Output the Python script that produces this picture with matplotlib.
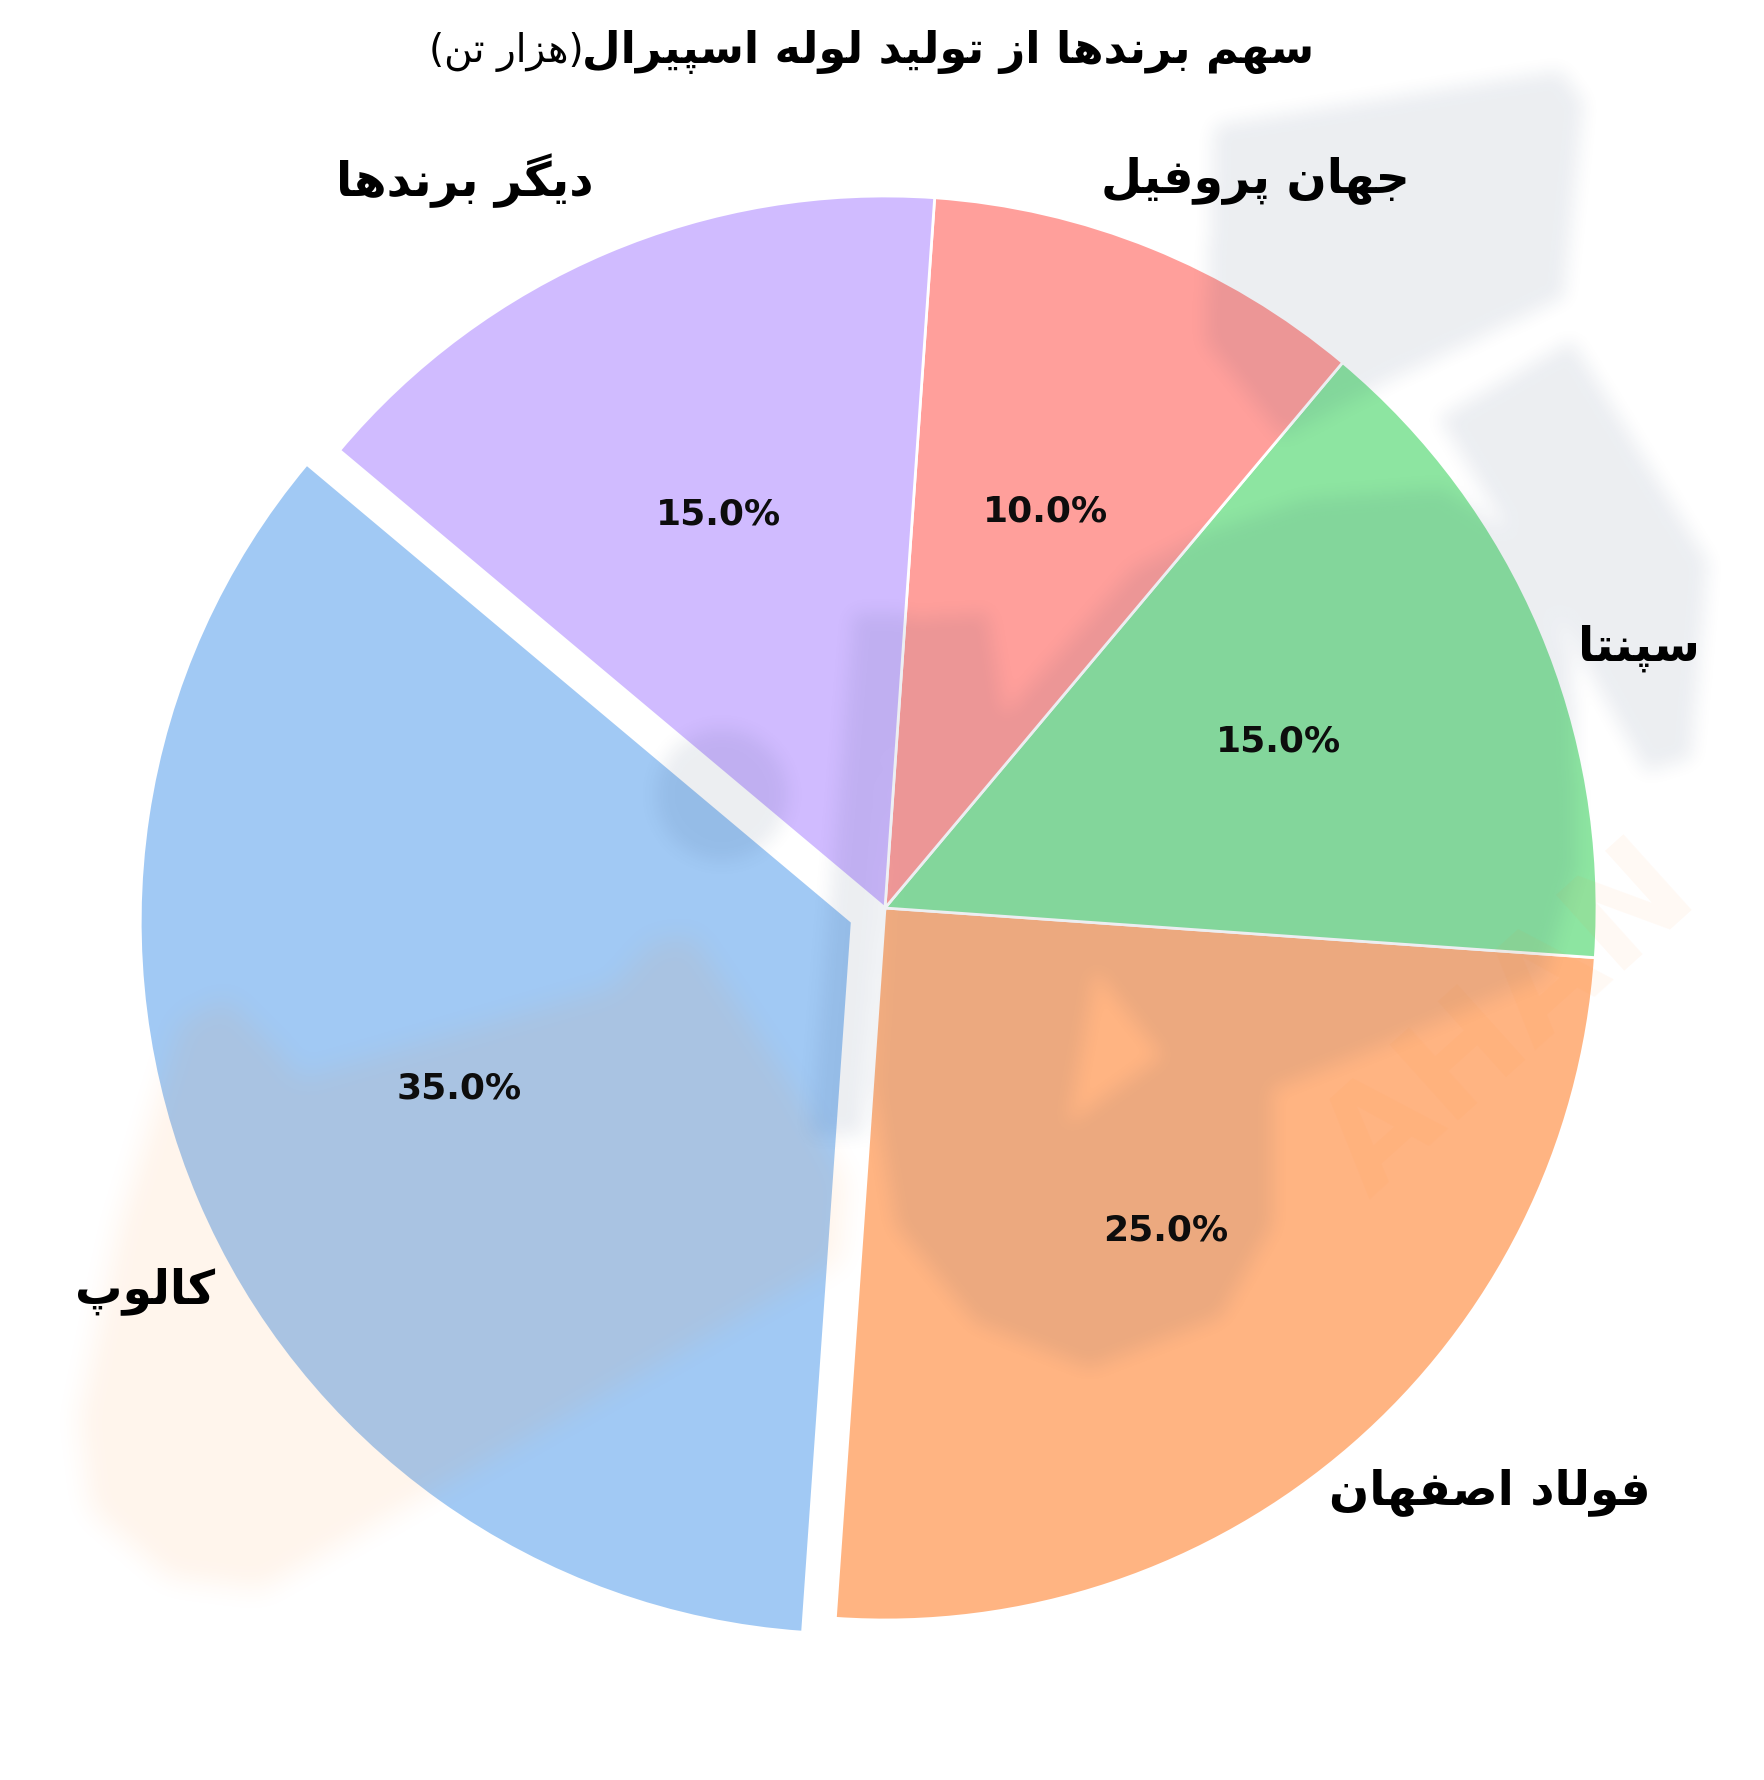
import numpy as np
import matplotlib
matplotlib.use("Agg")
import matplotlib.pyplot as plt
from matplotlib.path import Path

# data
brands = ["کالوپ", "فولاد اصفهان", "سپنتا", "جهان پروفیل", "دیگر برندها"]
shares = [35, 25, 15, 10, 15]
colors = ["#a1c9f4", "#ffb482", "#8de5a1", "#ff9f9b", "#d0bbff"]
explode = [0.05, 0, 0, 0, 0]
title_main = "سهم برندها از تولید لوله اسپیرال"
title_unit = "هزار تن"

# label placement tweaks (deg shift from wedge middle, radius)
label_shift = [4.6, 5.0, -4.0, -5.0, 7.0]
label_rad = [1.12, 1.18, 1.12, 1.147, 1.18]

# minimal persian shaping: isolated, final, initial, medial
FORMS = {
    "ا": ("\uFE8D", "\uFE8E", None, None),
    "ب": ("\uFE8F", "\uFE90", "\uFE91", "\uFE92"),
    "پ": ("\uFB56", "\uFB57", "\uFB58", "\uFB59"),
    "ت": ("\uFE95", "\uFE96", "\uFE97", "\uFE98"),
    "ج": ("\uFE9D", "\uFE9E", "\uFE9F", "\uFEA0"),
    "د": ("\uFEA9", "\uFEAA", None, None),
    "ر": ("\uFEAD", "\uFEAE", None, None),
    "ز": ("\uFEAF", "\uFEB0", None, None),
    "س": ("\uFEB1", "\uFEB2", "\uFEB3", "\uFEB4"),
    "ص": ("\uFEB9", "\uFEBA", "\uFEBB", "\uFEBC"),
    "ف": ("\uFED1", "\uFED2", "\uFED3", "\uFED4"),
    "ک": ("\uFB8E", "\uFB8F", "\uFB90", "\uFB91"),
    "گ": ("\uFB92", "\uFB93", "\uFB94", "\uFB95"),
    "ل": ("\uFEDD", "\uFEDE", "\uFEDF", "\uFEE0"),
    "م": ("\uFEE1", "\uFEE2", "\uFEE3", "\uFEE4"),
    "ن": ("\uFEE5", "\uFEE6", "\uFEE7", "\uFEE8"),
    "ه": ("\uFEE9", "\uFEEA", "\uFEEB", "\uFEEC"),
    "و": ("\uFEED", "\uFEEE", None, None),
    "ی": ("\uFBFC", "\uFBFD", "\uFBFE", "\uFBFF"),
}


def fa(text):
    out = []
    for i, c in enumerate(text):
        if c not in FORMS:
            out.append(c)
            continue
        prev = text[i - 1] if i > 0 else None
        nxt = text[i + 1] if i + 1 < len(text) else None
        jp = prev in FORMS and FORMS[prev][2] is not None
        jn = nxt in FORMS and FORMS[c][2] is not None
        iso, fin, ini, med = FORMS[c]
        out.append(med if jp and jn else fin if jp else ini if jn else iso)
    return "".join(reversed(out))


def blur(m, r):
    # separable box blur, two passes
    for _ in range(2):
        for axis in (0, 1):
            pad = [(r, r) if a == axis else (0, 0) for a in (0, 1)]
            c = np.cumsum(np.pad(m, pad, mode="edge"), axis=axis)
            c = np.insert(c, 0, 0, axis=axis)
            n = m.shape[axis]
            m = (np.take(c, np.arange(2 * r + 1, 2 * r + 1 + n), axis=axis)
                 - np.take(c, np.arange(n), axis=axis)) / (2 * r + 1)
    return m


plt.rcParams["font.family"] = ["DejaVu Sans"]

W, H, DPI = 1765, 1780, 100
fig = plt.figure(figsize=(W / DPI, H / DPI), dpi=DPI)
ax = fig.add_axes([0, 0, 1, 1])

wedges, _, autotexts = ax.pie(
    shares, colors=colors, explode=explode, startangle=140,
    autopct="%1.1f%%", pctdistance=0.6,
    wedgeprops=dict(edgecolor="white", linewidth=2),
    textprops=dict(fontsize=26, fontweight="bold", color="#0d0d0d", zorder=4))

for w, name, dth, rad in zip(wedges, brands, label_shift, label_rad):
    mid = np.deg2rad((w.theta1 + w.theta2) / 2 + dth)
    cx, cy = w.center
    ax.text(cx + rad * np.cos(mid), cy + rad * np.sin(mid), fa(name),
            ha="center", va="center", fontsize=34, fontweight="bold",
            color="black", zorder=4)

# centre at (885, 908) px, radius 712 px
R, CX, CY = 712, 885, 908
ax.set_xlim(-CX / R, (W - CX) / R)
ax.set_ylim(-(H - CY) / R, CY / R)
ax.set_aspect("auto")
ax.axis("off")

# faint, soft watermark logo between wedges and texts (sketched in 1555x1568 preview px)
PW, PH = 1555, 1568
S = W / PW
nx, ny = PW // 2, PH // 2
gx, gy = np.meshgrid((np.arange(nx) + 0.5) * PW / nx, (np.arange(ny) + 0.5) * PH / ny)
pts = np.column_stack([gx.ravel(), gy.ravel()])


def poly_mask(vs):
    return Path(vs + [vs[0]]).contains_points(pts).reshape(ny, nx).astype(float)


gray = np.zeros((ny, nx))
gray = np.maximum(gray, poly_mask([(1070, 110), (1375, 62), (1395, 90), (1378, 262),
                                   (1225, 335), (1130, 385), (1062, 300)]))
gray = np.maximum(gray, poly_mask([(1268, 368), (1385, 300), (1505, 495), (1490, 668),
                                   (1450, 680), (1360, 520)]))
big = poly_mask([(780, 800), (795, 545), (870, 540), (885, 630), (1000, 500),
                 (1060, 470), (1150, 440), (1270, 430), (1350, 480), (1385, 580),
                 (1390, 760), (1360, 860), (1220, 920), (1120, 960), (1120, 1080),
                 (1075, 1160), (960, 1205), (860, 1165), (790, 1080), (770, 960)])
big = big * (1 - poly_mask([(965, 855), (941, 990), (1024, 930)]))
gray = np.maximum(gray, big)
gray = np.maximum(gray, poly_mask([(752, 540), (798, 540), (760, 1000), (714, 1000)]))
gray = np.maximum(gray, ((gx - 636) ** 2 + (gy - 700) ** 2 < 58 ** 2).astype(float))
gray = blur(gray, 4)

orng = poly_mask([(70, 1250), (105, 1080), (160, 900), (200, 880), (240, 920),
                  (265, 950), (540, 870), (575, 830), (610, 825), (640, 870),
                  (700, 960), (745, 1040), (740, 1110), (230, 1400),
                  (150, 1390), (80, 1330)])
orng = blur(orng, 6)

ext = (-CX / R, (PW * S - CX) / R, (CY - PH * S) / R, CY / R)
for mask, rgb, a in [(orng, (1.0, 0.55, 0.16), 0.09), (gray, (0.10, 0.20, 0.38), 0.083)]:
    img = np.zeros((ny, nx, 4))
    img[..., :3] = rgb
    img[..., 3] = mask * a
    ax.imshow(img, extent=ext, interpolation="bilinear", aspect="auto", zorder=2)
ax.text((1330 * S - CX) / R, (CY - 900 * S) / R, "AHAN", rotation=42,
        ha="center", va="center", fontsize=100, fontweight="bold",
        color=(1.0, 0.55, 0.16), alpha=0.05, zorder=2)
ax.set_xlim(-CX / R, (W - CX) / R)
ax.set_ylim(-(H - CY) / R, CY / R)

fig.text(1314 / W, 1 - 52 / H, fa(title_main), ha="right", va="center",
         fontsize=32, fontweight="bold")
fig.text(584 / W, 1 - 52 / H, "(" + fa(title_unit) + ")", ha="right",
         va="center", fontsize=28)

fig.savefig("out.png", dpi=DPI, facecolor="white")
